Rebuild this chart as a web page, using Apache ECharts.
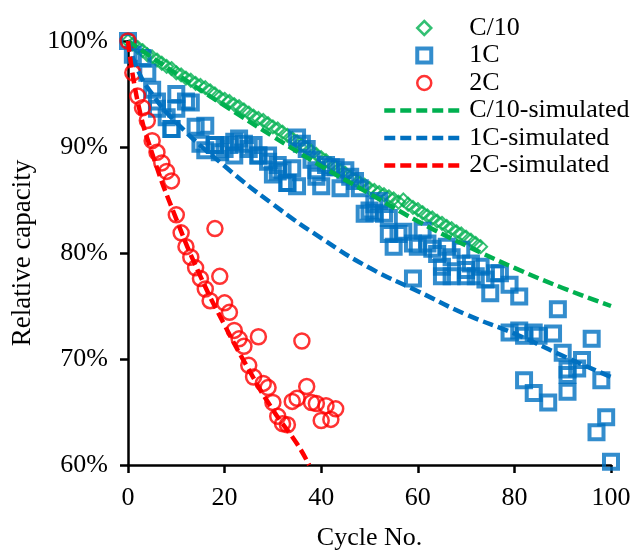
<!DOCTYPE html>
<html>
<head>
<meta charset="utf-8">
<script src="https://cdn.jsdelivr.net/npm/echarts@6/dist/echarts.min.js"></script>
<style>
  html, body { margin: 0; padding: 0; background: #fff; }
  #main { width: 637px; height: 556px; }
</style>
</head>
<body>
<div id="main"></div>
<script>
// measured points (cycle, relative capacity %)
var c10Values = [100.0, 99.7, 99.4, 99.1, 98.7, 98.5, 98.2, 97.9, 97.6, 97.4, 97.0, 96.8, 96.5, 96.3, 96.0,
  95.8, 95.6, 95.3, 95.0, 94.7, 94.5, 94.3, 94.0, 93.8, 93.5, 93.2, 92.9, 92.7, 92.5, 92.2, 91.9, 91.7,
  91.4, 91.1, 90.8, 90.5, 90.2, 89.9, 89.6, 89.3, 89.0, 88.7, 88.4, 88.1, 87.8, 87.5, 87.2, 86.9, 86.6,
  86.4, 86.1, 85.9, 85.7, 85.5, 85.3, 85.1, 84.8, 85.0, 84.6, 84.3, 84.1, 83.8, 83.5, 83.3, 83.0, 82.8,
  82.5, 82.3, 82.0, 81.8, 81.5, 81.2, 80.9, 80.6];
var c10Cycles = c10Values.map(function (v, i) { return i; });

var oneCCycles = [0, 1, 3, 4, 5, 6, 6, 8, 9, 9, 10, 10, 12, 13, 14, 15, 16, 16, 18, 18, 19, 20, 21, 22, 22,
  23, 24, 25, 26, 27, 27, 29, 29, 30, 31, 31, 32, 33, 33, 34, 35, 35, 36, 37, 38, 39, 39, 40, 41, 42, 43,
  44, 45, 46, 47, 48, 49, 50, 51, 51, 52, 53, 54, 54, 55, 56, 57, 59, 59, 60, 61, 62, 63, 64, 65, 65, 66,
  67, 67, 69, 70, 70, 71, 72, 73, 74, 75, 76, 77, 79, 79, 81, 81, 82, 82, 84, 84, 85, 87, 88, 89, 90, 91,
  91, 91, 93, 94, 96, 97, 98, 99, 100];
var oneCValues = [100.0, 98.7, 98.4, 97.0, 95.4, 94.3, 93.6, 92.8, 91.7, 91.7, 93.6, 95.0, 94.3, 94.2, 91.9,
  90.3, 89.7, 92.0, 90.2, 90.2, 89.5, 89.8, 90.2, 89.2, 90.5, 90.8, 90.3, 89.8, 90.2, 89.2, 89.2, 88.6,
  89.2, 87.4, 88.3, 87.7, 87.8, 86.6, 86.6, 88.0, 86.3, 90.9, 90.3, 89.8, 88.8, 87.2, 87.8, 86.3, 88.3,
  88.1, 88.1, 86.1, 87.8, 87.2, 86.8, 86.1, 83.7, 84.0, 84.6, 83.8, 84.9, 83.7, 83.3, 81.8, 80.6, 81.8,
  82.0, 80.9, 77.6, 80.6, 82.1, 80.9, 80.4, 79.9, 77.8, 78.7, 80.6, 79.6, 77.8, 80.3, 78.4, 77.8, 79.0,
  77.8, 78.7, 77.5, 76.2, 78.1, 78.1, 77.0, 72.5, 72.7, 75.9, 72.2, 68.0, 72.5, 66.8, 72.2, 65.9, 72.4,
  74.7, 70.6, 68.5, 69.0, 66.9, 69.1, 69.9, 71.9, 63.1, 68.0, 64.5, 60.3];

var twoCValues = [100.0, 97.0, 94.8, 93.7, 92.5, 90.6, 89.5, 88.5, 87.7, 86.8, 83.6, 81.9, 80.6, 79.6, 78.6,
  77.6, 76.6, 75.5, 82.3, 77.8, 75.3, 74.4, 72.7, 71.9, 71.2, 69.4, 68.3, 72.1, 67.7, 67.3, 65.9, 64.6,
  63.9, 63.8, 66.0, 66.3, 71.7, 67.4, 65.9, 65.8, 64.2, 65.6, 64.3, 65.3];
var twoCCycles = twoCValues.map(function (v, i) { return i; });

// simulated curves
var c10SimCycles = [0, 10, 20, 30, 40, 50, 60, 70, 80, 90, 100];
var c10SimValues = [100, 96.9, 93.9, 91.0, 88.2, 85.6, 83.0, 80.7, 78.6, 76.7, 75.0];
var oneCSimCycles = [0, 2, 5, 10, 20, 30, 40, 50, 60, 70, 80, 90, 100];
var oneCSimValues = [100, 97.3, 95.0, 92.3, 88.2, 84.6, 81.4, 78.6, 76.4, 74.2, 72.4, 70.3, 68.3];
var twoCSimCycles = [0, 2, 5, 10, 15, 20, 25, 30, 35, 37.5];
var twoCSimValues = [100, 94.3, 89.4, 83.2, 77.8, 73.2, 69.0, 65.2, 62.0, 60.0];

var xTicks = [0, 20, 40, 60, 80, 100];
var yTicks = [60, 70, 80, 90, 100];

var GREEN = '#00b050', BLUE = '#0070c0', RED = '#ff0000';
var FONT = "'Liberation Serif', 'Times New Roman', serif";

// legend icons for the measured series (kept square, centred in the 80px slot)
var ICON_DIAMOND = 'path://M7,0 L14,7 L7,14 L0,7 Z';
var ICON_SQUARE = 'path://M0,0 L14,0 L14,14 L0,14 Z';
var ICON_CIRCLE = 'path://M7,0 A7,7 0 1,1 7,14 A7,7 0 1,1 7,0 Z';

function pairs(xs, ys) {
  return xs.map(function (x, i) { return [x, ys[i]]; });
}

function scatter(name, xs, ys, symbol, size, color, bw) {
  return {
    name: name, type: 'scatter', data: pairs(xs, ys),
    symbol: symbol, symbolSize: size,
    itemStyle: { color: 'rgba(255,255,255,0)', borderColor: color, borderWidth: bw }
  };
}

function simLine(name, xs, ys, color) {
  return {
    name: name, type: 'line', data: pairs(xs, ys), smooth: true,
    symbol: 'none', itemStyle: { color: color, opacity: 0 },
    lineStyle: { color: color, width: 4.5, type: [11, 5] }
  };
}

function legendIcon(name, icon, color, bw) {
  return {
    name: name, icon: icon,
    itemStyle: { color: 'rgba(255,255,255,0)', borderColor: color, borderWidth: bw }
  };
}

var chart = echarts.init(document.getElementById('main'));
chart.setOption({
  animation: false,
  backgroundColor: '#fff',
  textStyle: { fontFamily: FONT },
  grid: { left: 128, right: 26, top: 41, bottom: 85 },
  legend: {
    orient: 'vertical', left: 377, top: 10,
    itemWidth: 80, itemHeight: 14, itemGap: 1.5,
    symbolKeepAspect: true,
    lineStyle: { width: 4.5 },
    textStyle: { fontFamily: FONT, fontSize: 26, color: '#000', lineHeight: 26 },
    data: [
      legendIcon('C/10', ICON_DIAMOND, GREEN, 2.5),
      legendIcon('1C', ICON_SQUARE, BLUE, 4),
      legendIcon('2C', ICON_CIRCLE, RED, 2.5),
      'C/10-simulated', '1C-simulated', '2C-simulated'
    ]
  },
  xAxis: {
    type: 'value', min: xTicks[0], max: xTicks[xTicks.length - 1], interval: 20,
    name: 'Cycle No.', nameLocation: 'middle', nameGap: 60,
    nameTextStyle: { fontFamily: FONT, fontSize: 26, color: '#000' },
    axisLine: { lineStyle: { color: '#000', width: 2.5 } },
    axisTick: { length: 8, lineStyle: { color: '#000', width: 2.5 } },
    axisLabel: { margin: 20, fontFamily: FONT, fontSize: 26, color: '#000' },
    splitLine: { show: false }
  },
  yAxis: {
    type: 'value', min: yTicks[0], max: yTicks[yTicks.length - 1], interval: 10,
    name: 'Relative capacity', nameLocation: 'middle', nameGap: 88,
    nameTextStyle: { fontFamily: FONT, fontSize: 27, color: '#000' },
    axisLine: { show: true, lineStyle: { color: '#000', width: 2.5 } },
    axisTick: { show: true, length: 8, lineStyle: { color: '#000', width: 2.5 } },
    axisLabel: { margin: 20, fontFamily: FONT, fontSize: 26, color: '#000', formatter: '{value}%' },
    splitLine: { show: false }
  },
  series: [
    scatter('C/10', c10Cycles, c10Values, 'diamond', 13, GREEN, 2),
    scatter('1C', oneCCycles, oneCValues, 'rect', 14, BLUE, 4),
    scatter('2C', twoCCycles, twoCValues, 'circle', 15, RED, 2.5),
    simLine('C/10-simulated', c10SimCycles, c10SimValues, GREEN),
    simLine('1C-simulated', oneCSimCycles, oneCSimValues, BLUE),
    simLine('2C-simulated', twoCSimCycles, twoCSimValues, RED)
  ]
});
</script>
</body>
</html>
